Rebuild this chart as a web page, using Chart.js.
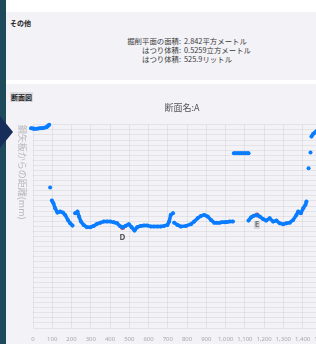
<!DOCTYPE html>
<html><head><meta charset="utf-8">
<script src="https://cdn.jsdelivr.net/npm/chart.js@4/dist/chart.umd.min.js"></script>
<style>
html,body{margin:0;padding:0;}
body{width:316px;height:344px;overflow:hidden;position:relative;background:#fff;font-family:"Noto Sans CJK JP","Noto Sans",sans-serif;}
#bar{position:absolute;left:0;top:0;width:6px;height:344px;background:#1f4a5c;}
#tri{position:absolute;left:0;top:116px;width:0;height:0;border-top:16px solid transparent;border-bottom:16px solid transparent;border-left:13px solid #172f58;}
.panel{position:absolute;left:6px;right:0;background:#f2f2f7;}
.h{position:absolute;left:10px;font-size:7px;font-weight:bold;color:#222;}
.row{position:absolute;left:0;width:316px;font-size:7.4px;color:#3a3a3a;line-height:9px;}
.row .l{position:absolute;right:135px;text-align:right;white-space:nowrap;}
.row .v{position:absolute;left:184px;white-space:nowrap;}
#wrap{position:absolute;left:0;top:98px;width:364px;height:246px;}
canvas{display:block;}
</style></head><body>
<div class="panel" style="top:12px;height:68px;"></div>
<div class="panel" style="top:84px;height:260px;"></div>
<div id="bar"></div>
<div id="tri"></div>
<div class="h" style="top:18px;">その他</div>
<div class="row" style="top:36px;"><span class="l">掘削平面の面積:</span><span class="v">2.842平方メートル</span></div>
<div class="row" style="top:45px;"><span class="l">はつり体積:</span><span class="v">0.5259立方メートル</span></div>
<div class="row" style="top:54px;"><span class="l">はつり体積:</span><span class="v">525.9リットル</span></div>
<div class="h" style="top:92px;background:#dcdce2;padding:0 1px;">断面図</div>
<div id="wrap"><canvas id="c" width="364" height="246"></canvas></div>
<script>
const chartTitle = "断面名:A";
const yAxisTitle = "鋼矢板からの距離(mm)";
const xTicks = [0,100,200,300,400,500,600,700,800,900,1000,1100,1200,1300,1400,1500,1600];

const topX = [-10,0,5,16,26,37,47,57,68,73,78,84];
const topY = [1965,1963,1962,1962,1963,1965,1967,1970,1975,1980,1990,2000];

const mainX = [89,98,106,115,127,141,155,167,181,193,205,219,231,239,249,263,280,298,315,333,350,367,385,402,419,437,451,465,480,498,512,527,541,559,576,594,611,628,646,663,680,698,707,715,727,733,750,768,794,820,837,855,872,889,907,924,941,955,968,981,994,1007,1020,1038];
const mainY = [1382,1254,1228,1179,1136,1146,1136,1113,1064,1031,1008,1130,1146,1097,1047,1015,992,992,1005,1025,1037,1047,1047,1047,1041,1031,1005,988,1005,1022,992,959,992,1005,1008,1008,1000,998,998,998,1005,1015,1047,1113,1130,1037,1015,998,1005,1022,1047,1081,1103,1113,1097,1064,1037,1035,1037,1040,1041,1044,1047,1047];

const flatX = [1043,1053,1063,1073,1083,1093,1103,1113,1119];
const flatY = [1721,1721,1721,1721,1721,1721,1721,1721,1721];

const rightX = [1119,1133,1147,1163,1177,1194,1211,1229,1247,1264,1281,1299,1316,1333,1351,1368,1377,1391,1403,1415,1420,1431,1441,1446,1455,1464,1473];
const rightY = [1057,1091,1106,1113,1097,1074,1057,1081,1047,1057,1031,1022,1031,1037,1064,1113,1146,1130,1179,1212,1244,1573,1727,1885,1911,1924,1938];

const markNames = ["D","E"];
const markX = [465,1163];
const markY = [988,1113];

function pts(xs, ys){ return xs.map((x,i)=>({x:x,y:ys[i]})); }
const BLUE = '#0a7cff';
function seg(xs, ys){
  return {
    data: pts(xs, ys), showLine: true, borderColor: BLUE, backgroundColor: BLUE,
    borderWidth: 3.5, pointRadius: 2, pointBorderWidth: 0, borderCapStyle:'round', borderJoinStyle:'round',
    clip: false,
    segment: { borderColor: c => Math.hypot(c.p1.x-c.p0.x, c.p1.y-c.p0.y) > 7 ? 'transparent' : BLUE }
  };
}

const labelPlugin = {
  id: 'labels',
  afterDatasetsDraw(chart){
    const ctx = chart.ctx, xs = chart.scales.x, ys = chart.scales.y;
    ctx.save();
    ctx.translate(22, chart.chartArea.top);
    ctx.rotate(Math.PI/2);
    ctx.font = '9px "Noto Sans CJK JP"';
    ctx.fillStyle = '#b8b8bc';
    ctx.textAlign = 'left'; ctx.textBaseline = 'middle';
    ctx.fillText(yAxisTitle, 0, 0);
    ctx.restore();
    ctx.save();
    markNames.forEach((n,i)=>{
      const px = xs.getPixelForValue(markX[i]), py = ys.getPixelForValue(markY[i]);
      ctx.font = 'bold 8px "Noto Sans"';
      ctx.textAlign = 'center'; ctx.textBaseline = 'middle';
      if (i === 1) {
        ctx.fillStyle = '#d6d6da';
        ctx.fillRect(px-3, py+6, 6, 8);
        ctx.fillStyle = '#777';
      } else ctx.fillStyle = '#555';
      ctx.fillText(n, px, py+10);
    });
    ctx.restore();
  }
};

new Chart(document.getElementById('c'), {
  type: 'scatter',
  data: { datasets: [
    seg(topX, topY), seg(mainX, mainY), seg(flatX, flatY), seg(rightX, rightY),
    { data: pts(markX, markY), backgroundColor: '#ff3b30', borderWidth: 0, pointRadius: 2.5, clip: false }
  ]},
  options: {
    responsive: false, animation: false,
    layout: { padding: 0 },
    plugins: {
      legend: { display: false }, tooltip: { enabled: false },
      title: { display: true, text: chartTitle, color: '#555', font: { size: 9, family: '"Noto Sans CJK JP"', weight: 'normal', lineHeight: 1.2 }, padding: { top: 4, bottom: 12 } }
    },
    scales: {
      x: {
        type: 'linear', min: 0, max: 1698,
        grid: { color: 'rgba(0,0,0,0.06)', drawTicks: false },
        border: { display: false },
        afterBuildTicks: s => { s.ticks = xTicks.map(v => ({ value: v })); },
        ticks: { color: '#a8a8ad', font: { size: 6, family: '"Noto Sans"' }, padding: 8, maxRotation: 0, autoSkip: false,
          callback: v => v.toLocaleString('en-US') },
        afterFit: s => { s.height = 16; s.paddingLeft = 0; s.paddingRight = 0; }
      },
      y: {
        min: 0, max: 2000,
        grid: { color: 'rgba(0,0,0,0.06)', drawTicks: false },
        border: { display: false },
        ticks: { stepSize: 50, display: false },
        afterFit: s => { s.width = 33; s.paddingTop = 0; s.paddingBottom = 0; }
      }
    }
  },
  plugins: [labelPlugin]
});
</script>
</body></html>
